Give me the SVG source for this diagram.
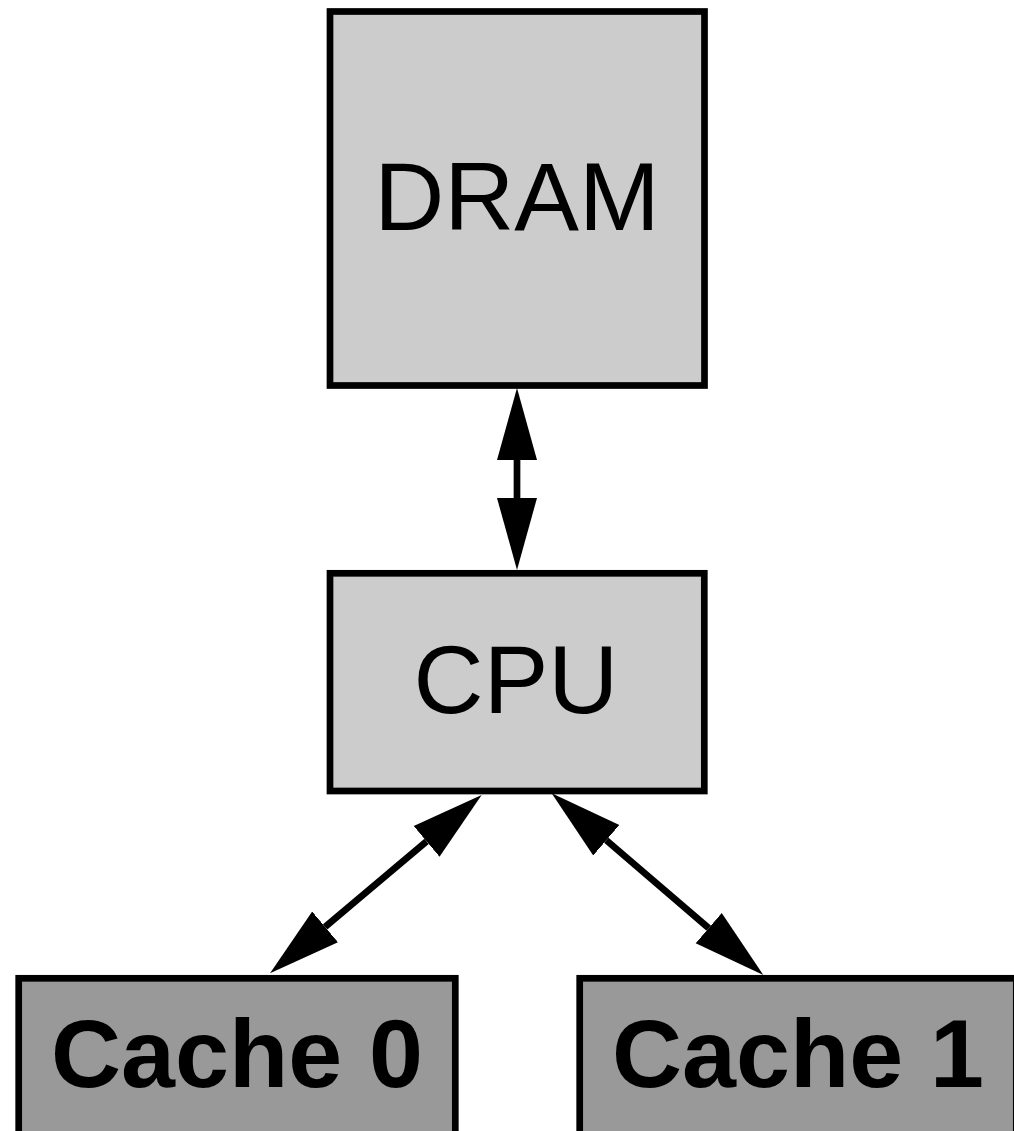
<svg xmlns="http://www.w3.org/2000/svg" width="1014" height="1131" viewBox="0 0 1014 1131">
<style>
.node rect{stroke:#000;stroke-width:6.7}
.light{fill:#cccccc}
.dark{fill:#999999}
.lbl{font-family:"Liberation Sans",Arial,Helvetica,sans-serif;font-size:97px;fill:#000;text-anchor:middle}
.bold{font-weight:bold}
.edges line{stroke:#000;stroke-width:6.7;fill:none}
</style>
<defs>
<marker id="ah" markerUnits="userSpaceOnUse" markerWidth="80" markerHeight="48" viewBox="0 -24 80 48" refX="0" refY="0" orient="auto-start-reverse">
<path d="M0,-20 L72,0 L0,20 Z" fill="#000"/>
</marker>
</defs>
<rect width="1014" height="1131" fill="#fff"/>
<g id="DRAM" class="node">
<rect class="light" x="330" y="11.5" width="374.5" height="374"/>
<text class="lbl" x="517" y="230">DRAM</text>
</g>
<g id="CPU" class="node">
<rect class="light" x="330" y="573.3" width="374.3" height="217.7"/>
<text class="lbl" x="516" y="713">CPU</text>
</g>
<g id="Cache0" class="node">
<rect class="dark" x="18.7" y="978.3" width="436.6" height="200"/>
<text class="lbl bold" x="237" y="1087">Cache 0</text>
</g>
<g id="Cache1" class="node">
<rect class="dark" x="579.7" y="978.3" width="436.6" height="200"/>
<text class="lbl bold" x="798" y="1087">Cache 1</text>
</g>
<g id="edges" class="edges">
<line x1="517" y1="460" x2="517" y2="498" marker-start="url(#ah)" marker-end="url(#ah)"/>
<line x1="426.6" y1="841.4" x2="325.1" y2="926.9" marker-start="url(#ah)" marker-end="url(#ah)"/>
<line x1="606.3" y1="840.2" x2="708.7" y2="928.1" marker-start="url(#ah)" marker-end="url(#ah)"/>
</g>
</svg>
